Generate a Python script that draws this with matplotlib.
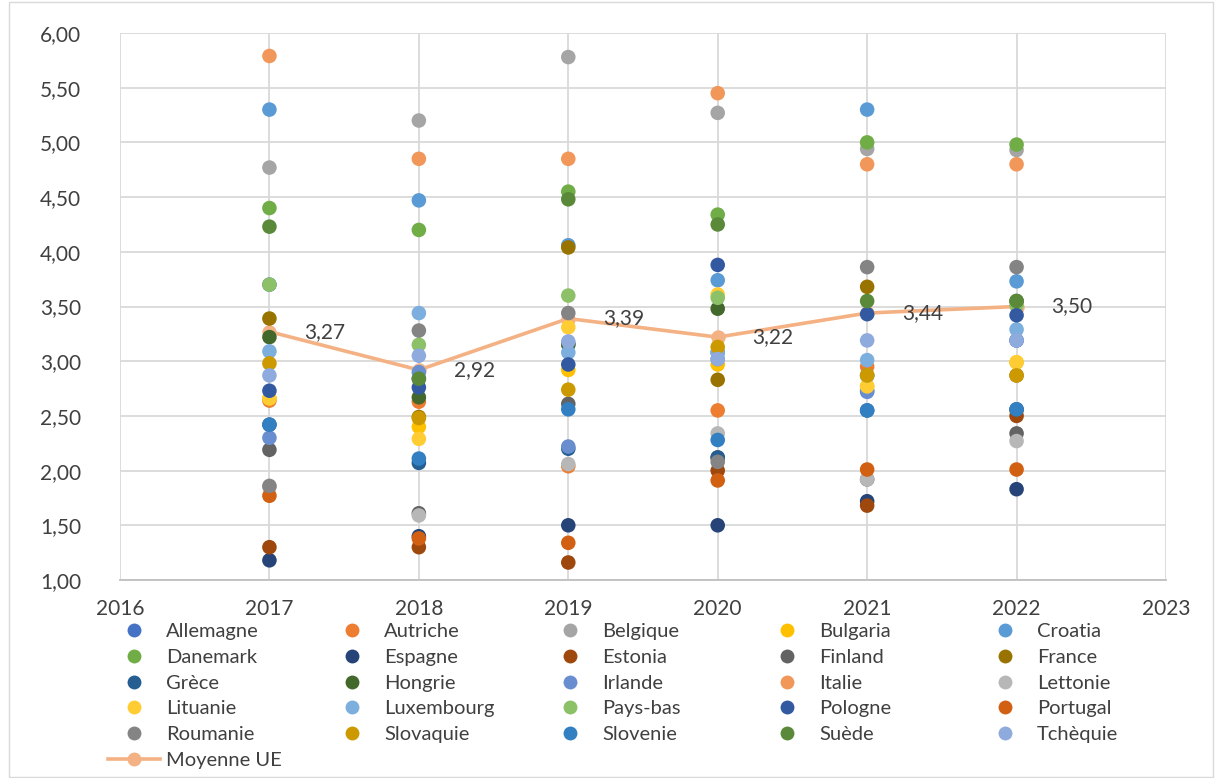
import matplotlib
matplotlib.use("Agg")
import matplotlib.pyplot as plt
from matplotlib.lines import Line2D
from matplotlib.patches import Rectangle
from matplotlib.ticker import FuncFormatter, MultipleLocator

plt.rcParams['font.family'] = ['Lato', 'DejaVu Sans']

years = [2017, 2018, 2019, 2020, 2021, 2022]

countries = ["Allemagne", "Autriche", "Belgique", "Bulgaria", "Croatia",
             "Danemark", "Espagne", "Estonia", "Finland", "France",
             "Grèce", "Hongrie", "Irlande", "Italie", "Lettonie",
             "Lituanie", "Luxembourg", "Pays-bas", "Pologne", "Portugal",
             "Roumanie", "Slovaquie", "Slovenie", "Suède", "Tchèquie"]

colors = ["#4472C4", "#ED7D31", "#A5A5A5", "#FFC000", "#5B9BD5",
          "#70AD47", "#264478", "#9E480E", "#636363", "#997300",
          "#255E91", "#43682B", "#698ED0", "#F1975A", "#B7B7B7",
          "#FFCD33", "#7CAFDD", "#8CC168", "#335AA1", "#D26012",
          "#848484", "#CC9A00", "#327FC2", "#5A8A39", "#8FAADC"]

values = {
    "Allemagne":  [3.70, 2.84, 3.16, 3.08, 2.73, 3.19],
    "Autriche":   [2.64, 2.63, 2.04, 2.55, 2.95, 2.55],
    "Belgique":   [4.77, 5.20, 5.78, 5.27, 4.94, 4.93],
    "Bulgaria":   [2.66, 2.40, 2.92, 2.97, 2.77, 2.99],
    "Croatia":    [5.30, 4.47, 4.06, 3.74, 5.30, 3.73],
    "Danemark":   [4.40, 4.20, 4.55, 4.34, 5.00, 4.98],
    "Espagne":    [1.18, 1.40, 1.50, 1.50, 1.72, 1.83],
    "Estonia":    [1.30, 1.30, 1.16, 2.00, 1.68, 2.50],
    "Finland":    [2.19, 1.61, 2.61, 2.12, 1.92, 2.34],
    "France":     [3.39, 2.49, 4.04, 2.83, 3.68, 2.87],
    "Grèce":      [2.42, 2.07, 2.20, 2.12, 2.55, 2.56],
    "Hongrie":    [3.22, 2.67, 3.15, 3.48, 2.87, 3.55],
    "Irlande":    [2.30, 2.90, 2.22, 3.02, 2.72, 3.19],
    "Italie":     [5.79, 4.85, 4.85, 5.45, 4.80, 4.80],
    "Lettonie":   [1.85, 1.59, 2.06, 2.34, 1.92, 2.27],
    "Lituanie":   [2.66, 2.29, 3.31, 3.61, 2.77, 2.99],
    "Luxembourg": [3.09, 3.44, 3.08, 3.08, 3.01, 3.29],
    "Pays-bas":   [3.70, 3.15, 3.60, 3.58, 2.87, 3.51],
    "Pologne":    [2.73, 2.76, 2.97, 3.88, 3.43, 3.42],
    "Portugal":   [1.77, 1.38, 1.34, 1.91, 2.01, 2.01],
    "Roumanie":   [1.86, 3.28, 3.44, 2.08, 3.86, 3.86],
    "Slovaquie":  [2.98, 2.48, 2.74, 3.13, 2.87, 2.87],
    "Slovenie":   [2.42, 2.11, 2.56, 2.28, 2.55, 2.56],
    "Suède":      [4.23, 2.84, 4.48, 4.25, 3.55, 3.55],
    "Tchèquie":   [2.87, 3.05, 3.18, 3.02, 3.19, 3.19],
}

eu_label = "Moyenne UE"
eu_mean = [3.27, 2.92, 3.39, 3.22, 3.44, 3.50]
eu_color = "#F4B183"

text_color = "#404040"
grid_color = "#D9D9D9"

W, H = 1215, 778
fig = plt.figure(figsize=(W / 100, H / 100), dpi=100)
ax = fig.add_axes([120 / W, 1 - 580 / H, (1166 - 120) / W, (580 - 33) / H])

for name, col in zip(countries, colors):
    ax.scatter(years, values[name], s=110, color=col, edgecolors='none',
               zorder=3, label=name)

ax.plot(years, eu_mean, color=eu_color, lw=2.6, marker='o',
        markersize=10.4, markeredgewidth=0, zorder=2.5, label=eu_label)

for x, y in zip(years, eu_mean):
    ax.annotate(f"{y:.2f}".replace('.', ','), (x, y), xytext=(25, 0),
                textcoords='offset points', ha='left', va='center',
                fontsize=15, color=text_color, zorder=4)

ax.set_xlim(2016, 2023)
ax.set_ylim(1.0, 6.0)
ax.xaxis.set_major_locator(MultipleLocator(1))
ax.yaxis.set_major_locator(MultipleLocator(0.5))
ax.yaxis.set_major_formatter(FuncFormatter(lambda v, p: f"{v:.2f}".replace('.', ',')))
ax.xaxis.set_major_formatter(FuncFormatter(lambda v, p: f"{int(round(v))}"))
ax.grid(True, color=grid_color, lw=1.3, zorder=0)
ax.set_axisbelow(True)
for side in ['top', 'right', 'left']:
    ax.spines[side].set_visible(False)
ax.spines['bottom'].set_color('#BFBFBF')
ax.spines['bottom'].set_linewidth(1.3)
ax.tick_params(length=0, labelsize=15, labelcolor=text_color)
ax.tick_params(axis='y', pad=28)
ax.tick_params(axis='x', pad=14)

# legend: five entries per row, filled row by row
entries = [(c, col, False) for c, col in zip(countries, colors)] + [(eu_label, eu_color, True)]
col_x = [134, 352, 570, 787, 1005]
row_y0, row_dy = 630, 25.8
for i, (label, col, is_line) in enumerate(entries):
    r, c = divmod(i, 5)
    mx, my = col_x[c], row_y0 + r * row_dy
    fx, fy = mx / W, 1 - my / H
    if is_line:
        fig.add_artist(Line2D([(mx - 26) / W, (mx + 26) / W], [fy, fy],
                              transform=fig.transFigure, color=col, lw=2.6))
    fig.add_artist(Line2D([fx], [fy], transform=fig.transFigure, ls='none',
                          marker='o', markersize=10, markerfacecolor=col,
                          markeredgewidth=0))
    fig.text((mx + 32) / W, fy, label, ha='left', va='center_baseline',
             fontsize=14.5, color=text_color)

fig.add_artist(Rectangle((9 / W, 1.5 / H), (1213 - 9) / W, (776 - 1.5) / H,
                         transform=fig.transFigure, fill=False,
                         edgecolor='#D9D9D9', lw=1))

fig.savefig("out.png", dpi=100)
